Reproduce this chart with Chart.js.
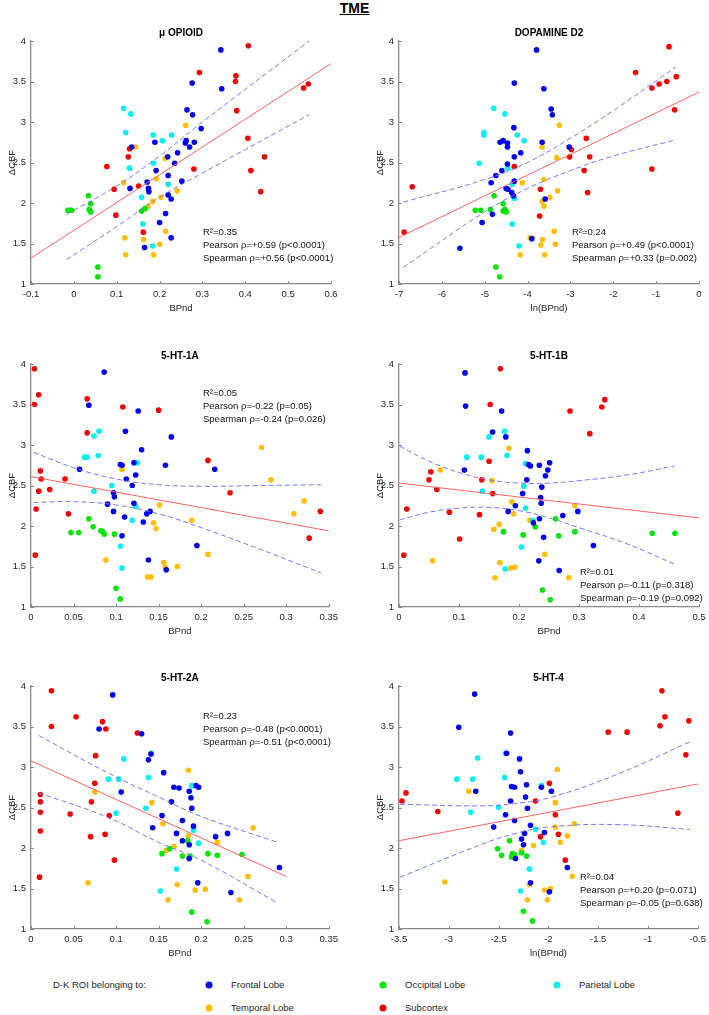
<!DOCTYPE html>
<html>
<head>
<meta charset="utf-8">
<script src="https://cdn.jsdelivr.net/npm/chart.js@4"></script>
<style>
  body { margin: 0; width: 709px; height: 1015px; overflow: hidden; background: #fff; position: relative;
         font-family: "Liberation Sans", Arial, sans-serif; color: #262626; }
  canvas { position: absolute; }
  #mainTitle { position: absolute; left: 0; top: 0; width: 709px; text-align: center; font-weight: bold;
               font-size: 14px; line-height: 16px; color: #000; text-decoration: underline; }
  .lg { position: absolute; font-size: 9.5px; line-height: 12px; transform: translateY(-50%); white-space: nowrap; }
  .dot { position: absolute; width: 7px; height: 7px; border-radius: 50%; transform: translate(-50%, -50%); }
</style>
</head>
<body>
<div id="mainTitle">TME</div>
<script>
// grupos de ROI y sus colores
const roiGroups = ['Frontal Lobe', 'Occipital Lobe', 'Parietal Lobe', 'Temporal Lobe', 'Subcortex'];
const roiColors = ['#0000f0', '#00e400', '#00f0f0', '#ffbf00', '#f50000'];

// ticks
const cbfTicks = [1, 1.5, 2, 2.5, 3, 3.5, 4];
const opiTicks = [-0.1, 0, 0.1, 0.2, 0.3, 0.4, 0.5, 0.6];
const d2Ticks = [-7, -6, -5, -4, -3, -2, -1, 0];
const h1aTicks = [0, 0.05, 0.1, 0.15, 0.2, 0.25, 0.3, 0.35];
const h1bTicks = [0, 0.1, 0.2, 0.3, 0.4, 0.5];
const h2aTicks = [0, 0.05, 0.1, 0.15, 0.2, 0.25, 0.3, 0.35];
const h4Ticks = [-3.5, -3, -2.5, -2, -1.5, -1, -0.5];

// mu OPIOID
const opiFrontal = [[0.343,3.89],[0.345,3.41],[0.276,3.48],[0.264,3.15],[0.277,3.09],[0.297,2.92],[0.262,2.77],[0.260,2.74],[0.270,2.69],[0.281,2.75],[0.189,2.75],[0.242,2.62],[0.219,2.57],[0.235,2.49],[0.192,2.40],[0.252,2.27],[0.220,2.34],[0.171,2.26],[0.174,2.18],[0.175,2.14],[0.131,2.18],[0.135,2.69],[0.220,2.10],[0.227,2.05],[0.214,1.87],[0.200,1.76],[0.227,1.57],[0.165,1.45]];
const opiOccipital = [[-0.014,1.91],[-0.009,1.91],[-0.005,1.91],[0.034,2.09],[0.039,1.99],[0.036,1.92],[0.039,1.89],[0.158,1.90],[0.166,1.93],[0.056,1.21],[0.056,1.09]];
const opiParietal = [[0.116,3.17],[0.133,3.10],[0.121,2.87],[0.185,2.84],[0.228,2.84],[0.207,2.77],[0.130,2.43],[0.186,2.49],[0.220,2.23],[0.158,2.07],[0.161,1.74],[0.184,1.47]];
const opiTemporal = [[0.261,2.96],[0.144,2.69],[0.213,2.55],[0.116,2.25],[0.193,2.30],[0.241,2.15],[0.203,2.07],[0.184,2.02],[0.173,1.96],[0.214,1.65],[0.119,1.57],[0.163,1.55],[0.200,1.49],[0.121,1.36],[0.186,1.36]];
const opiSubcortex = [[0.407,3.94],[0.293,3.61],[0.378,3.57],[0.377,3.50],[0.380,3.14],[0.406,2.80],[0.445,2.57],[0.413,2.40],[0.436,2.14],[0.536,3.42],[0.547,3.47],[0.280,2.42],[0.130,2.67],[0.127,2.57],[0.077,2.45],[0.094,2.17],[0.151,2.21],[0.098,1.85],[0.162,1.64]];
const opiFit = [[-0.1,1.32],[0.6,3.72]];
const opiUpper = [[-0.017,1.86],[0.1,2.21],[0.2,2.58],[0.3,3.0],[0.549,4.0]];
const opiLower = [[-0.017,1.30],[0.1,1.71],[0.2,2.07],[0.3,2.37],[0.549,3.09]];
const opiStats = ['R²=0.35', 'Pearson ρ=+0.59 (p<0.0001)', 'Spearman ρ=+0.56 (p<0.0001)'];

// DOPAMINE D2
const d2Frontal = [[-3.79,3.89],[-4.31,3.48],[-3.62,3.41],[-3.45,3.16],[-3.42,3.09],[-4.32,2.93],[-3.66,2.75],[-4.64,2.75],[-4.57,2.77],[-4.47,2.74],[-4.47,2.69],[-3.03,2.69],[-4.31,2.57],[-4.16,2.62],[-4.47,2.48],[-4.60,2.40],[-4.74,2.34],[-4.85,2.25],[-4.31,2.27],[-4.50,2.18],[-4.46,2.17],[-4.37,2.13],[-4.33,2.09],[-3.59,2.05],[-4.82,1.86],[-5.06,1.76],[-3.90,1.56],[-5.58,1.44]];
const d2Occipital = [[-5.22,1.91],[-5.09,1.91],[-4.87,1.92],[-4.78,2.09],[-4.57,1.99],[-4.53,1.92],[-4.50,1.89],[-4.57,1.90],[-4.74,1.21],[-4.65,1.09]];
const d2Parietal = [[-4.79,3.17],[-4.53,3.10],[-5.02,2.87],[-5.02,2.84],[-4.24,2.84],[-4.08,2.77],[-5.13,2.49],[-4.46,2.43],[-4.36,2.23],[-4.31,2.06],[-4.36,1.74],[-4.20,1.47]];
const d2Temporal = [[-3.26,2.96],[-3.66,2.69],[-3.32,2.56],[-3.62,2.29],[-4.12,2.25],[-3.30,2.15],[-3.48,2.07],[-3.66,2.02],[-3.62,1.96],[-3.38,1.65],[-3.94,1.57],[-3.65,1.55],[-3.69,1.48],[-3.35,1.49],[-4.17,1.36],[-3.60,1.36]];
const d2Subcortex = [[-0.70,3.93],[-1.48,3.61],[-0.53,3.56],[-0.75,3.50],[-0.93,3.47],[-1.10,3.42],[-0.57,3.15],[-2.63,2.80],[-2.98,2.66],[-3.02,2.57],[-2.55,2.57],[-2.68,2.40],[-1.10,2.42],[-4.31,2.45],[-6.69,2.20],[-3.70,2.17],[-2.60,2.13],[-3.72,1.84],[-6.88,1.64]];
const d2Fit = [[-7,1.575],[0,3.37]];
const d2Upper = [[-6.9,2.01],[-5,2.29],[-4,2.50],[-3,2.80],[-2,3.14],[-0.54,3.68]];
const d2Lower = [[-6.9,1.205],[-5,1.89],[-4,2.18],[-3,2.40],[-2,2.58],[-0.54,2.78]];
const d2Stats = ['R²=0.24', 'Pearson ρ=+0.49 (p<0.0001)', 'Spearman ρ=+0.33 (p=0.002)'];

// 5-HT-1A
const h1aFrontal = [[0.086,3.90],[0.068,3.49],[0.126,3.42],[0.111,3.17],[0.165,3.10],[0.130,2.94],[0.105,2.76],[0.107,2.75],[0.121,2.78],[0.158,2.75],[0.216,2.70],[0.057,2.70],[0.123,2.63],[0.112,2.58],[0.119,2.50],[0.097,2.41],[0.098,2.36],[0.121,2.28],[0.090,2.27],[0.097,2.18],[0.140,2.18],[0.136,2.15],[0.110,2.11],[0.132,2.05],[0.107,1.88],[0.195,1.76],[0.138,1.58],[0.159,1.46]];
const h1aOccipital = [[0.068,2.09],[0.073,1.99],[0.047,1.92],[0.056,1.92],[0.082,1.94],[0.084,1.93],[0.086,1.90],[0.098,1.90],[0.100,1.23],[0.105,1.10]];
const h1aParietal = [[0.080,3.17],[0.074,3.11],[0.063,2.85],[0.066,2.85],[0.079,2.87],[0.125,2.78],[0.095,2.50],[0.074,2.43],[0.123,2.24],[0.119,2.07],[0.105,1.75],[0.107,1.48]];
const h1aTemporal = [[0.271,2.97],[0.282,2.57],[0.107,2.70],[0.321,2.31],[0.309,2.15],[0.151,2.26],[0.189,2.07],[0.144,2.04],[0.147,1.97],[0.208,1.65],[0.088,1.58],[0.156,1.55],[0.158,1.49],[0.172,1.50],[0.137,1.37],[0.141,1.37]];
const h1aSubcortex = [[0.004,3.94],[0.009,3.62],[0.004,3.50],[0.066,3.57],[0.108,3.47],[0.150,3.43],[0.066,3.15],[0.208,2.81],[0.011,2.68],[0.012,2.58],[0.040,2.58],[0.009,2.43],[0.022,2.45],[0.234,2.41],[0.006,2.21],[0.044,2.15],[0.340,2.18],[0.327,1.85],[0.005,1.64]];
const h1aFit = [[0,2.61],[0.35,1.94]];
const h1aUpper = [[0.003,2.91],[0.05,2.72],[0.1,2.58],[0.15,2.51],[0.2,2.49],[0.27,2.50],[0.341,2.51]];
const h1aLower = [[0.003,2.29],[0.05,2.30],[0.1,2.26],[0.15,2.15],[0.2,1.98],[0.27,1.71],[0.341,1.42]];
const h1aStats = ['R²=0.05', 'Pearson ρ=-0.22 (p=0.05)', 'Spearman ρ=-0.24 (p=0.026)'];

// 5-HT-1B
const h1bFrontal = [[0.110,3.89],[0.111,3.48],[0.171,3.42],[0.156,3.16],[0.178,3.10],[0.214,2.93],[0.216,2.76],[0.219,2.74],[0.234,2.75],[0.251,2.78],[0.248,2.69],[0.109,2.69],[0.244,2.62],[0.213,2.57],[0.238,2.48],[0.206,2.40],[0.236,2.35],[0.237,2.28],[0.194,2.25],[0.182,2.18],[0.298,2.18],[0.273,2.13],[0.234,2.09],[0.224,2.04],[0.241,1.86],[0.324,1.76],[0.233,1.57],[0.267,1.45]];
const h1bOccipital = [[0.174,1.93],[0.207,1.89],[0.227,1.99],[0.261,2.09],[0.266,1.88],[0.293,1.93],[0.422,1.91],[0.460,1.91],[0.239,1.21],[0.252,1.09]];
const h1bParietal = [[0.176,3.17],[0.150,3.10],[0.113,2.85],[0.137,2.85],[0.180,2.87],[0.211,2.77],[0.208,2.49],[0.139,2.43],[0.211,2.22],[0.223,2.07],[0.204,1.74],[0.177,1.47]];
const h1bTemporal = [[0.183,2.96],[0.069,2.69],[0.155,2.56],[0.188,2.30],[0.191,2.15],[0.293,2.25],[0.218,2.07],[0.167,2.02],[0.158,1.96],[0.243,1.65],[0.056,1.57],[0.168,1.55],[0.186,1.48],[0.193,1.49],[0.160,1.36],[0.283,1.36]];
const h1bSubcortex = [[0.169,3.94],[0.152,3.50],[0.343,3.56],[0.338,3.47],[0.285,3.42],[0.318,3.14],[0.150,2.80],[0.053,2.67],[0.050,2.57],[0.138,2.57],[0.063,2.45],[0.156,2.40],[0.013,2.21],[0.084,2.17],[0.134,2.14],[0.101,1.84],[0.008,1.64]];
const h1bFit = [[0,2.53],[0.5,2.10]];
const h1bUpper = [[0.001,2.985],[0.05,2.80],[0.1,2.66],[0.15,2.57],[0.2,2.53],[0.25,2.53],[0.3,2.56],[0.38,2.63],[0.459,2.74]];
const h1bLower = [[0.001,2.075],[0.05,2.17],[0.1,2.22],[0.15,2.23],[0.2,2.19],[0.25,2.10],[0.3,1.98],[0.38,1.78],[0.459,1.53]];
const h1bStats = ['R²=0.01', 'Pearson ρ=-0.11 (p=0.318)', 'Spearman ρ=-0.19 (p=0.092)'];

// 5-HT-2A
const h2aFrontal = [[0.096,3.89],[0.080,3.47],[0.130,3.41],[0.138,3.09],[0.141,3.16],[0.156,2.93],[0.168,2.75],[0.174,2.74],[0.186,2.70],[0.194,2.77],[0.197,2.75],[0.188,2.62],[0.106,2.69],[0.165,2.57],[0.189,2.49],[0.154,2.40],[0.178,2.34],[0.191,2.27],[0.143,2.25],[0.171,2.18],[0.231,2.18],[0.217,2.14],[0.178,2.09],[0.186,2.04],[0.186,1.87],[0.292,1.76],[0.196,1.57],[0.235,1.45]];
const h2aOccipital = [[0.154,1.93],[0.163,1.99],[0.178,1.90],[0.184,2.09],[0.186,1.88],[0.187,1.90],[0.208,1.93],[0.219,1.91],[0.248,1.92],[0.189,1.21],[0.207,1.09]];
const h2aParietal = [[0.141,3.17],[0.109,3.10],[0.091,2.85],[0.103,2.85],[0.138,2.87],[0.189,2.77],[0.135,2.49],[0.100,2.43],[0.191,2.22],[0.197,2.06],[0.171,1.74],[0.152,1.47]];
const h2aTemporal = [[0.185,2.96],[0.075,2.69],[0.142,2.56],[0.155,2.30],[0.261,2.25],[0.185,2.15],[0.219,2.07],[0.168,2.02],[0.159,1.97],[0.255,1.65],[0.067,1.57],[0.172,1.55],[0.193,1.48],[0.205,1.49],[0.161,1.36],[0.245,1.36]];
const h2aSubcortex = [[0.024,3.94],[0.024,3.50],[0.053,3.62],[0.084,3.56],[0.088,3.47],[0.125,3.42],[0.076,3.14],[0.075,2.80],[0.011,2.66],[0.011,2.57],[0.071,2.57],[0.011,2.44],[0.046,2.42],[0.092,2.40],[0.011,2.21],[0.087,2.17],[0.070,2.14],[0.098,1.85],[0.010,1.64]];
const h2aFit = [[0,3.075],[0.3,1.65]];
const h2aUpper = [[0.009,3.39],[0.09,2.93],[0.15,2.63],[0.2,2.39],[0.29,2.07]];
const h2aLower = [[0.009,2.68],[0.09,2.38],[0.15,2.07],[0.2,1.85],[0.29,1.32]];
const h2aStats = ['R²=0.23', 'Pearson ρ=-0.48 (p<0.0001)', 'Spearman ρ=-0.51 (p<0.0001)'];

// 5-HT-4
const h4Frontal = [[-2.74,3.90],[-2.90,3.49],[-2.38,3.42],[-2.42,3.17],[-2.29,3.10],[-2.28,2.94],[-2.37,2.76],[-2.34,2.75],[-2.22,2.78],[-2.07,2.75],[-1.97,2.70],[-2.73,2.70],[-2.23,2.63],[-2.38,2.58],[-2.21,2.49],[-2.43,2.41],[-2.34,2.34],[-2.55,2.26],[-2.18,2.28],[-2.04,2.19],[-2.24,2.18],[-2.27,2.11],[-2.25,2.04],[-2.33,1.87],[-1.81,1.76],[-2.18,1.57],[-1.99,1.46]];
const h4Occipital = [[-2.39,2.09],[-2.51,1.99],[-2.47,1.91],[-2.36,1.93],[-2.37,1.89],[-2.34,1.92],[-2.22,1.90],[-2.27,1.94],[-2.25,1.22],[-2.16,1.10]];
const h4Parietal = [[-2.43,3.17],[-2.71,3.11],[-2.92,2.85],[-2.76,2.85],[-2.44,2.87],[-2.07,2.77],[-2.50,2.50],[-2.78,2.44],[-2.13,2.23],[-2.05,2.07],[-2.19,1.74],[-2.28,1.47]];
const h4Temporal = [[-1.91,2.97],[-2.80,2.70],[-1.93,2.56],[-1.74,2.30],[-1.93,2.26],[-1.81,2.15],[-1.88,2.07],[-2.15,2.03],[-2.27,1.97],[-1.76,1.65],[-3.04,1.58],[-2.19,1.55],[-2.04,1.48],[-1.98,1.50],[-2.21,1.36],[-2.01,1.36]];
const h4Subcortex = [[-0.86,3.94],[-0.83,3.62],[-0.88,3.51],[-0.59,3.57],[-1.21,3.43],[-1.40,3.43],[-0.62,3.15],[-1.99,2.80],[-3.43,2.68],[-3.47,2.58],[-2.13,2.58],[-3.11,2.45],[-1.93,2.41],[-0.70,2.43],[-1.90,2.17],[-2.08,2.14],[-1.83,1.85]];
const h4Fit = [[-3.5,2.09],[-0.5,2.79]];
const h4Upper = [[-3.49,2.54],[-2.66,2.52],[-2.33,2.55],[-1.99,2.62],[-1.33,2.90],[-0.58,3.31]];
const h4Lower = [[-3.49,1.64],[-2.66,2.05],[-2.33,2.18],[-1.99,2.26],[-1.33,2.29],[-0.58,2.23]];
const h4Stats = ['R²=0.04', 'Pearson ρ=+0.20 (p=0.071)', 'Spearman ρ=-0.05 (p=0.638)'];

// Paneles: posicion del area del grafico en la pagina y donde va el texto de stats
const panels = [
  { title: 'μ OPIOID', xLabel: 'BPnd', xTicks: opiTicks, left: 31, top: 41,
    groups: [opiFrontal, opiOccipital, opiParietal, opiTemporal, opiSubcortex],
    fit: opiFit, upper: opiUpper, lower: opiLower, stats: opiStats, sx: 172, sy: 191 },
  { title: 'DOPAMINE D2', xLabel: 'ln(BPnd)', xTicks: d2Ticks, left: 399, top: 41,
    groups: [d2Frontal, d2Occipital, d2Parietal, d2Temporal, d2Subcortex],
    fit: d2Fit, upper: d2Upper, lower: d2Lower, stats: d2Stats, sx: 173, sy: 191 },
  { title: '5-HT-1A', xLabel: 'BPnd', xTicks: h1aTicks, left: 31, top: 364,
    groups: [h1aFrontal, h1aOccipital, h1aParietal, h1aTemporal, h1aSubcortex],
    fit: h1aFit, upper: h1aUpper, lower: h1aLower, stats: h1aStats, sx: 172, sy: 29 },
  { title: '5-HT-1B', xLabel: 'BPnd', xTicks: h1bTicks, left: 399, top: 364,
    groups: [h1bFrontal, h1bOccipital, h1bParietal, h1bTemporal, h1bSubcortex],
    fit: h1bFit, upper: h1bUpper, lower: h1bLower, stats: h1bStats, sx: 181, sy: 208 },
  { title: '5-HT-2A', xLabel: 'BPnd', xTicks: h2aTicks, left: 31, top: 686,
    groups: [h2aFrontal, h2aOccipital, h2aParietal, h2aTemporal, h2aSubcortex],
    fit: h2aFit, upper: h2aUpper, lower: h2aLower, stats: h2aStats, sx: 172, sy: 30 },
  { title: '5-HT-4', xLabel: 'ln(BPnd)', xTicks: h4Ticks, left: 399, top: 686,
    groups: [h4Frontal, h4Occipital, h4Parietal, h4Temporal, h4Subcortex],
    fit: h4Fit, upper: h4Upper, lower: h4Lower, stats: h4Stats, sx: 181, sy: 191 }
];

const FONT = '"Liberation Sans", Arial, sans-serif';
const axisGrey = '#8a8a8a';
const textGrey = '#262626';

const toXY = arr => arr.map(([x, y]) => ({ x, y }));
const fmt = v => String(Number(v.toFixed(3)));

// Ticks hacia adentro (estilo MATLAB) y texto de estadisticas
const panelExtras = {
  id: 'panelExtras',
  afterDraw(chart, args, opts) {
    const { ctx, chartArea: a, scales: { x, y } } = chart;
    ctx.save();
    ctx.strokeStyle = axisGrey;
    ctx.lineWidth = 1;
    ctx.beginPath();
    x.ticks.forEach(t => {
      const px = Math.round(x.getPixelForValue(t.value)) + 0.5;
      ctx.moveTo(px, a.bottom); ctx.lineTo(px, a.bottom - 3);
    });
    y.ticks.forEach(t => {
      const py = Math.round(y.getPixelForValue(t.value)) + 0.5;
      ctx.moveTo(a.left, py); ctx.lineTo(a.left + 3, py);
    });
    ctx.stroke();
    ctx.fillStyle = '#111';
    ctx.font = '9.5px ' + FONT;
    ctx.textBaseline = 'middle';
    opts.lines.forEach((s, i) => ctx.fillText(s, a.left + opts.sx, a.top + opts.sy + i * 13));
    ctx.restore();
  }
};

function makePanel(p) {
  const canvas = document.createElement('canvas');
  canvas.width = 352;
  canvas.height = 309;
  canvas.style.left = (p.left - 40) + 'px';
  canvas.style.top = (p.top - 30) + 'px';
  document.body.appendChild(canvas);

  const datasets = p.groups.map((pts, i) => ({
    label: roiGroups[i],
    data: toXY(pts),
    backgroundColor: roiColors[i],
    borderColor: roiColors[i],
    pointRadius: 2.8,
    pointBorderWidth: 0,
    order: 2
  }));
  datasets.push({ data: toXY(p.fit), showLine: true, borderColor: '#ff6464', borderWidth: 1, pointRadius: 0, order: 0 });
  [p.upper, p.lower].forEach(band => datasets.push({
    data: toXY(band), showLine: true, borderColor: '#7777ff', borderWidth: 1, borderDash: [5, 3],
    tension: 0.4, pointRadius: 0, order: 1
  }));

  const xt = p.xTicks;
  new Chart(canvas, {
    type: 'scatter',
    data: { datasets },
    plugins: [panelExtras],
    options: {
      responsive: false,
      animation: false,
      layout: { padding: { top: 0, right: 12, bottom: 0, left: 0 } },
      plugins: {
        legend: { display: false },
        tooltip: { enabled: false },
        title: { display: true, text: p.title, fullSize: false, color: '#000',
                 font: { family: FONT, size: 10, weight: 'bold' }, padding: { top: 16, bottom: 2 } },
        panelExtras: { lines: p.stats, sx: p.sx, sy: p.sy }
      },
      scales: {
        x: {
          type: 'linear', min: xt[0], max: xt[xt.length - 1],
          afterBuildTicks: s => { s.ticks = xt.map(v => ({ value: v })); },
          afterFit: s => { s.height = 36; },
          grid: { display: false, drawTicks: false },
          border: { display: true, color: axisGrey, width: 1.3 },
          ticks: { padding: 5, color: textGrey, font: { family: FONT, size: 9.5 }, callback: v => fmt(v), maxRotation: 0 },
          title: { display: true, text: p.xLabel, color: textGrey, font: { family: FONT, size: 9.5 }, padding: { bottom: 6.3 } }
        },
        y: {
          type: 'linear', min: 1, max: 4,
          afterBuildTicks: s => { s.ticks = cbfTicks.map(v => ({ value: v })); },
          afterFit: s => { s.width = 40; },
          grid: { display: false, drawTicks: false },
          border: { display: true, color: axisGrey, width: 1.3 },
          ticks: { padding: 5, color: textGrey, font: { family: FONT, size: 9.5 }, callback: v => fmt(v) },
          title: { display: true, text: 'ΔCBF', color: textGrey, font: { family: FONT, size: 9.5 }, padding: { top: 16 } }
        }
      }
    }
  });
}

panels.forEach(makePanel);

// Leyenda de abajo
const legendPos = [[209, 985], [383, 985], [557, 985], [209, 1008], [383, 1008]];
function addLegend() {
  const head = document.createElement('div');
  head.className = 'lg';
  head.style.left = '53px';
  head.style.top = '985px';
  head.textContent = 'D-K ROI belonging to:';
  document.body.appendChild(head);
  roiGroups.forEach((name, i) => {
    const [cx, cy] = legendPos[i];
    const dot = document.createElement('span');
    dot.className = 'dot';
    dot.style.left = cx + 'px';
    dot.style.top = cy + 'px';
    dot.style.background = roiColors[i];
    document.body.appendChild(dot);
    const txt = document.createElement('div');
    txt.className = 'lg';
    txt.style.left = (cx + 22) + 'px';
    txt.style.top = cy + 'px';
    txt.textContent = name;
    document.body.appendChild(txt);
  });
}
addLegend();
</script>
</body>
</html>
